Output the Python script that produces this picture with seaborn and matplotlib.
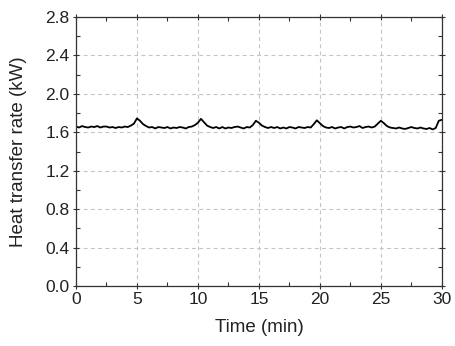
import numpy as np
import pandas as pd
import seaborn as sns
import matplotlib.pyplot as plt
from matplotlib.ticker import MultipleLocator

# Time axis (min), 0.25 min steps
time_min = np.arange(0, 30.01, 0.25)

# Heat transfer rate (kW) in 5 min chunks
q_0_5 = [1.66, 1.65, 1.665, 1.655, 1.65, 1.66, 1.655, 1.665, 1.65, 1.66,
         1.66, 1.65, 1.655, 1.645, 1.655, 1.65, 1.66, 1.655, 1.67, 1.69]
q_5_10 = [1.745, 1.72, 1.685, 1.665, 1.65, 1.655, 1.64, 1.655, 1.65, 1.645,
          1.655, 1.64, 1.65, 1.645, 1.655, 1.65, 1.64, 1.655, 1.66, 1.675]
q_10_15 = [1.70, 1.74, 1.705, 1.67, 1.655, 1.645, 1.655, 1.64, 1.655, 1.64,
           1.65, 1.645, 1.655, 1.66, 1.65, 1.64, 1.655, 1.65, 1.675, 1.72]
q_15_20 = [1.70, 1.67, 1.655, 1.645, 1.655, 1.645, 1.655, 1.64, 1.65, 1.64,
           1.655, 1.65, 1.64, 1.655, 1.65, 1.645, 1.655, 1.65, 1.685, 1.725]
q_20_25 = [1.695, 1.665, 1.65, 1.645, 1.655, 1.64, 1.65, 1.655, 1.64, 1.655,
           1.66, 1.65, 1.655, 1.665, 1.645, 1.655, 1.66, 1.65, 1.66, 1.69]
q_25_30 = [1.72, 1.695, 1.665, 1.65, 1.645, 1.64, 1.65, 1.64, 1.635, 1.645,
           1.655, 1.645, 1.64, 1.65, 1.64, 1.635, 1.645, 1.63, 1.645, 1.72]
q_end = [1.73]

heat_rate = q_0_5 + q_5_10 + q_10_15 + q_15_20 + q_20_25 + q_25_30 + q_end
df = pd.DataFrame({'time': time_min, 'rate': heat_rate})

sns.set_style('ticks')
plt.rcParams['font.family'] = ['Liberation Sans', 'DejaVu Sans']

fig = plt.figure(figsize=(4.55, 3.46), dpi=100)
ax = fig.add_axes([0.167, 0.173, 0.804, 0.778])

sns.lineplot(data=df, x='time', y='rate', color='black', linewidth=1.3, ax=ax)

ax.set_xlim(0, 30)
ax.set_ylim(0, 2.8)
ax.xaxis.set_major_locator(MultipleLocator(5))
ax.xaxis.set_minor_locator(MultipleLocator(2.5))
ax.yaxis.set_major_locator(MultipleLocator(0.4))
ax.yaxis.set_minor_locator(MultipleLocator(0.2))
ax.set_yticklabels([f'{v:.1f}' for v in ax.get_yticks()])

ax.grid(True, which='major', color='#c4c4c4', linestyle=(0, (3.5, 3)), linewidth=0.8)
ax.tick_params(which='major', direction='inout', length=5, width=0.8,
               labelsize=12.5, colors='#333333', labelcolor='#222222',
               top=True, right=True, pad=2)
ax.tick_params(which='minor', direction='in', length=3, width=0.8,
               colors='#333333', top=True, right=True)
for s in ax.spines.values():
    s.set_color('#333333')
    s.set_linewidth(0.9)

ax.set_xlabel('Time (min)', fontsize=13.5, color='#222222', labelpad=8)
ax.set_ylabel('Heat transfer rate (kW)', fontsize=13.5, color='#222222', labelpad=13)

fig.savefig('out.png', dpi=100)
